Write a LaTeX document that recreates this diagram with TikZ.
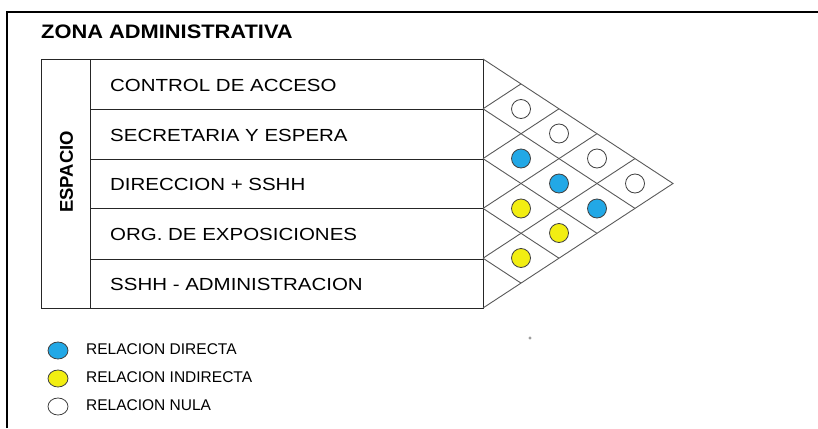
\documentclass[tikz,border=0pt]{standalone}
\usepackage{fontspec}
\setmainfont{Liberation Sans}
\usetikzlibrary{shapes.geometric}
\definecolor{relblue}{HTML}{22A8E6}
\definecolor{relyellow}{HTML}{F2EE12}
\newcommand{\wide}[1]{\scalebox{1.17}[1]{#1}}
\begin{document}
\begin{tikzpicture}[x=1pt,y=-1pt]
	\tikzstyle{tbl}=[draw=black!85,line width=0.9pt]
	\tikzstyle{grid}=[draw=black!65,line width=0.9pt]
	\tikzstyle{espacio}=[anchor=west,inner sep=0pt,font=\fontsize{17.5}{20}\selectfont]
	\tikzstyle{rel}=[circle,draw=black!75,line width=0.8pt,minimum size=19pt,inner sep=0pt]
	\tikzstyle{leyenda}=[ellipse,draw=black!75,line width=0.8pt,minimum width=20pt,minimum height=17pt,inner sep=0pt]
	\tikzstyle{txt}=[anchor=west,inner sep=0pt,font=\fontsize{15.5}{18}\selectfont]

	\useasboundingbox (0,0) rectangle (818,428);

	% marco
	\draw[line width=1.2pt] (7,428) -- (7,12) -- (818,12);
	\node[anchor=west,inner sep=0pt,font=\bfseries\fontsize{19.5}{22}\selectfont] (titulo) at (41,32) {\scalebox{1.12}[1]{ZONA ADMINISTRATIVA}};

	% tabla
	\draw[tbl] (41,59) rectangle (483,308);
	\draw[tbl] (90,59) -- (90,308);
	\foreach \y in {109,159,208,259}
		\draw[tbl] (90,\y) -- (483,\y);
	\node[rotate=90,inner sep=0pt,font=\bfseries\fontsize{18.5}{20}\selectfont] (espacio) at (66.5,172) {ESPACIO};

	\node[espacio] (r1) at (110,85) {\wide{CONTROL DE ACCESO}};
	\node[espacio] (r2) at (110,135) {\wide{SECRETARIA Y ESPERA}};
	\node[espacio] (r3) at (110,184.5) {\wide{DIRECCION + SSHH}};
	\node[espacio] (r4) at (110,234) {\wide{ORG. DE EXPOSICIONES}};
	\node[espacio] (r5) at (110,284.5) {\wide{SSHH - ADMINISTRACION}};

	% matriz
	\coordinate (T) at (483,59);
	\coordinate (A) at (673,183.5);
	\coordinate (B) at (483,308);
	\draw[grid] (T) -- (A) -- (B);
	\foreach \k in {1,...,4} {
		\draw[grid] (483,{59+49.8*\k}) -- ++({38*(5-\k)},{24.9*(5-\k)});
		\draw[grid] (483,{59+49.8*\k}) -- ++({38*\k},{-24.9*\k});
	}

	\node[rel,fill=white] (c12) at (521,109) {};
	\node[rel,fill=relblue] (c23) at (521,158.5) {};
	\node[rel,fill=relyellow] (c34) at (521,208.5) {};
	\node[rel,fill=relyellow] (c45) at (521,258) {};
	\node[rel,fill=white] (c13) at (559,133.5) {};
	\node[rel,fill=relblue] (c24) at (559,183.5) {};
	\node[rel,fill=relyellow] (c35) at (559,233) {};
	\node[rel,fill=white] (c14) at (597,158.5) {};
	\node[rel,fill=relblue] (c25) at (597,208.5) {};
	\node[rel,fill=white] (c15) at (635,183.5) {};

	\node[font=\fontsize{6}{6}\selectfont,inner sep=0pt] (marca) at (530,339) {+};

	% leyenda
	\node[leyenda,fill=relblue] (lb) at (58,350.5) {};
	\node[leyenda,fill=relyellow] (ly) at (58,378.5) {};
	\node[leyenda,fill=white] (lw) at (58,406.5) {};
	\node[txt] (tb) at (86,349) {RELACION DIRECTA};
	\node[txt] (ty) at (86,377.5) {RELACION INDIRECTA};
	\node[txt] (tw) at (86,405.5) {RELACION NULA};
\end{tikzpicture}
\end{document}
